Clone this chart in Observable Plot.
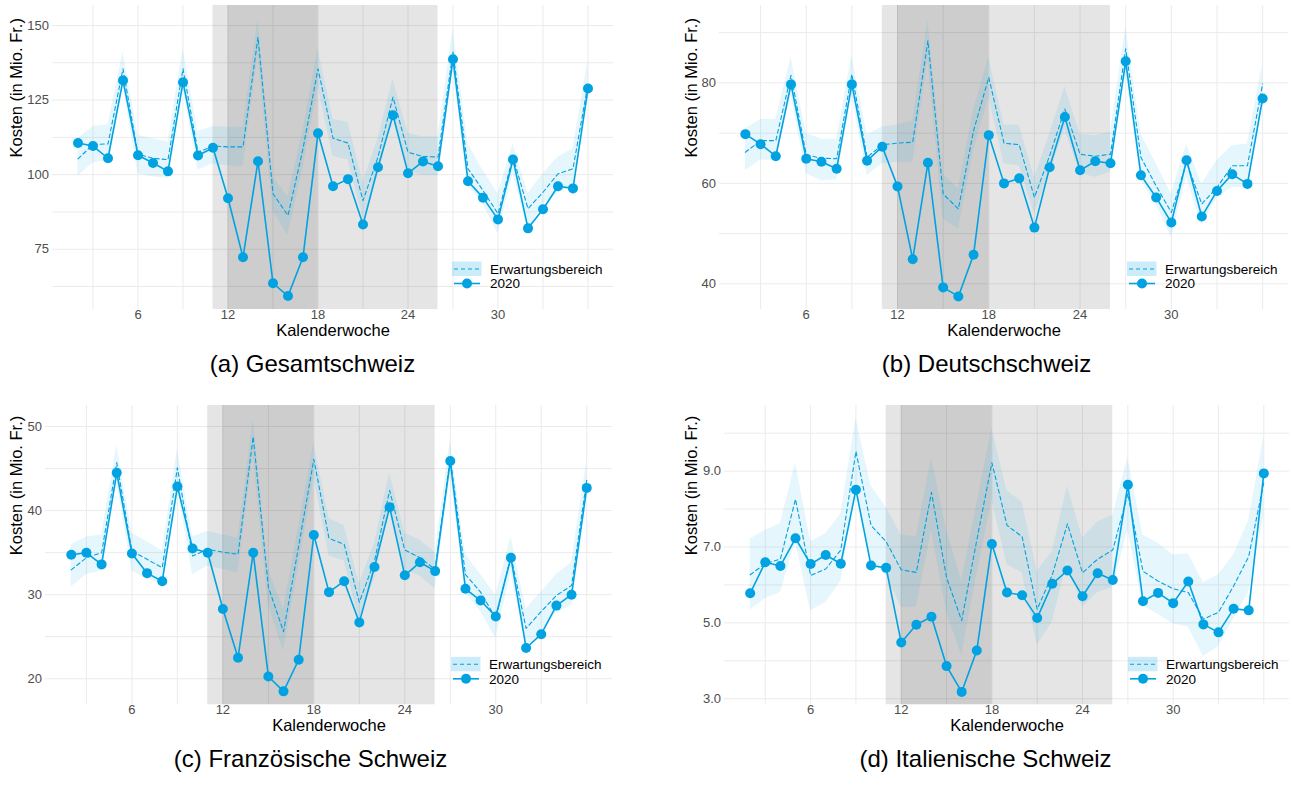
<!DOCTYPE html>
<html>
<head>
<meta charset="utf-8">
<script src="https://cdn.jsdelivr.net/npm/d3@7"></script>
<script src="https://cdn.jsdelivr.net/npm/@observablehq/plot@0.6"></script>
<style>
  html, body { margin: 0; padding: 0; background: #ffffff; }
  #wrap { position: relative; width: 1292px; height: 785px; overflow: hidden; }
  #wrap svg { position: absolute; overflow: visible; }
</style>
</head>
<body>
<div id="wrap"></div>
<script>
// ---------- data ----------
const weeks = [2,3,4,5,6,7,8,9,10,11,12,13,14,15,16,17,18,19,20,21,22,23,24,25,26,27,28,29,30,31,32,33,34,35,36];
const xTicks = [6, 12, 18, 24, 30];
const xGrid = [3, 6, 9, 12, 15, 18, 21, 24, 27, 30, 33, 36];
const periodStart = [11, 12];
const periodEnd = [26, 18];
const xTitle = "Kalenderwoche";
const yTitle = "Kosten (in Mio. Fr.)";
const legendLabels = ["Erwartungsbereich", "2020"];

// (a) Gesamtschweiz
const valA = [110.6,109.6,105.5,131.6,106.5,103.9,101.1,131.0,106.4,109.0,92.1,72.3,104.5,63.6,59.3,72.3,113.9,96.1,98.5,83.3,102.5,119.9,100.5,104.4,102.8,138.7,97.8,92.3,85.0,105.1,82.0,88.4,96.1,95.4,128.9];
const expA = [105.3,110.1,110.3,135.5,106.8,105.5,105.0,135.5,107.5,109.6,109.3,109.3,146.1,93.6,86.3,108.7,135.5,112.2,110.6,91.3,105.9,126.0,107.5,106.1,105.9,141.1,102.0,94.7,86.9,105.9,88.6,94.1,100.3,102.0,130.4];
const loA  = [99.5,104.0,104.7,129.9,100.3,99.2,98.8,129.1,101.6,103.6,103.0,102.7,140.5,87.8,79.6,102.5,129.3,106.1,105.0,85.2,99.7,119.8,101.4,99.7,99.7,134.9,96.4,90.2,80.2,100.3,81.3,90.2,93.8,96.4,125.4];
const hiA  = [112.0,116.1,116.7,141.0,113.1,112.0,110.9,142.2,114.5,116.1,115.9,115.9,151.7,99.2,92.5,114.8,142.2,118.5,117.6,97.5,112.0,132.1,113.9,112.6,112.6,148.9,110.3,101.4,93.6,110.3,93.6,100.3,105.9,108.7,138.3];

// (b) Deutschschweiz
const valB = [69.8,67.8,65.4,79.7,64.9,64.3,62.9,79.7,64.5,67.3,59.4,44.9,64.1,39.3,37.5,45.8,69.6,60.0,61.0,51.2,63.2,73.2,62.6,64.4,64.0,84.3,61.6,57.2,52.2,64.6,53.4,58.5,61.8,59.9,76.9];
const expB = [66.2,68.5,68.5,81.5,65.7,65.0,64.9,81.7,65.2,67.7,68.0,68.2,88.4,57.9,54.9,70.5,81.1,68.0,67.7,57.2,65.5,74.8,65.8,65.4,65.8,86.8,65.2,59.5,54.2,64.2,55.9,59.2,63.5,63.5,79.8];
const loB  = [62.5,64.7,64.5,77.5,61.9,60.5,60.7,77.6,61.5,63.9,64.2,64.2,84.5,52.9,50.9,66.5,77.1,63.9,63.5,53.9,61.9,70.8,61.9,61.2,62.2,82.1,60.5,55.9,49.2,61.2,51.6,57.2,59.2,59.2,75.8];
const hiB  = [70.8,72.7,72.7,85.1,70.0,68.8,68.8,85.4,69.7,71.2,71.6,72.4,92.4,61.9,58.9,74.5,85.1,71.6,71.6,61.2,69.8,79.3,69.8,69.5,70.2,91.1,69.8,63.9,57.9,67.8,59.9,64.5,67.5,67.8,83.8];

// (c) Französische Schweiz
const valC = [34.74,34.98,33.6,44.5,34.9,32.56,31.6,42.86,35.5,34.98,28.3,22.5,34.98,20.27,18.5,22.26,37.1,30.3,31.6,26.7,33.3,40.4,32.3,33.85,32.8,45.9,30.7,29.3,27.4,34.4,23.66,25.3,28.7,30.0,42.7];
const expC = [32.95,34.4,34.98,45.7,35.2,34.2,33.2,45.1,34.6,35.4,35.05,34.8,48.8,30.9,25.6,35.8,46.1,36.7,36.0,29.1,34.0,42.4,35.3,34.4,33.0,46.3,32.4,30.3,27.2,34.6,26.0,28.0,29.9,31.1,43.6];
const loC  = [30.9,32.4,32.8,43.6,32.8,31.9,31.3,42.8,32.4,33.4,33.0,32.6,46.7,28.7,23.3,33.4,44.0,34.6,34.0,26.8,31.9,40.2,33.0,32.2,30.7,44.3,30.3,28.0,24.8,32.6,23.7,25.6,27.8,28.7,41.4];
const hiC  = [35.95,36.85,37.1,47.7,37.3,36.3,35.2,47.3,36.9,37.5,37.1,36.7,50.8,33.0,28.3,38.1,48.0,39.1,38.2,31.3,36.1,44.5,37.3,36.5,35.0,48.4,34.8,32.4,29.9,36.9,28.3,30.3,32.4,33.8,45.9];

// (d) Italienische Schweiz
const valD = [5.78,6.6,6.5,7.23,6.55,6.79,6.56,8.51,6.51,6.45,4.48,4.95,5.16,3.86,3.18,4.27,7.08,5.8,5.73,5.13,6.03,6.38,5.7,6.31,6.13,8.64,5.57,5.79,5.52,6.09,4.96,4.75,5.37,5.33,8.94];
const expD = [6.27,6.56,6.68,8.26,6.25,6.42,6.92,9.52,7.57,7.14,6.4,6.33,8.44,6.19,5.06,7.18,9.22,7.57,7.27,5.36,6.27,7.61,6.32,6.68,6.92,8.4,6.36,6.1,5.9,5.8,5.1,5.28,5.97,6.75,8.7];
const loD  = [5.34,5.64,5.8,7.14,5.32,5.54,6.1,8.52,6.66,6.27,5.41,5.41,7.44,5.28,4.15,6.27,8.26,6.53,6.32,4.41,5.02,6.62,5.41,5.8,5.93,7.44,5.45,5.23,4.97,4.89,4.11,4.37,5.1,5.8,7.83];
const hiD  = [7.21,7.44,7.61,9.22,7.14,7.35,7.87,10.39,8.61,8.05,7.31,7.27,9.35,7.44,6.1,8.13,10.13,8.48,8.18,6.36,6.88,8.61,7.23,7.66,7.83,9.35,7.31,7.1,6.79,6.82,6.06,6.27,6.79,7.7,9.91];

const captions = ["(a) Gesamtschweiz", "(b) Deutschschweiz", "(c) Französische Schweiz", "(d) Italienische Schweiz"];

// ---------- drawing ----------
const blue = "#00a2e1";
const font = "'Liberation Sans', Arial, Helvetica, sans-serif";
const periods = periodStart.map((s, i) => ({start: s, end: periodEnd[i]}));
const wrap = document.getElementById("wrap");

function panel(cfg) {
  const data = weeks.map((w, i) => ({week: w, value: cfg.val[i], expected: cfg.exp[i], lower: cfg.lo[i], upper: cfg.hi[i]}));
  const plot = Plot.plot({
    width: cfg.width, height: cfg.height,
    marginLeft: cfg.mL, marginRight: cfg.mR, marginTop: cfg.mT, marginBottom: cfg.mB,
    x: {domain: [0.3, 37.7], axis: null},
    y: {domain: cfg.yDomain, axis: null},
    style: {fontFamily: font, fontSize: "13px", color: "#4d4d4d", background: "transparent", overflow: "visible"},
    marks: [
      Plot.ruleY(cfg.yGrid, {stroke: "#ebebeb", strokeWidth: 1}),
      Plot.ruleX(xGrid, {stroke: "#ebebeb", strokeWidth: 1}),
      Plot.rect(periods, {x1: "start", x2: "end", fill: "#000", fillOpacity: 0.1}),
      Plot.areaY(data, {x: "week", y1: "lower", y2: "upper", fill: blue, fillOpacity: 0.1}),
      Plot.lineY(data, {x: "week", y: "expected", stroke: blue, strokeWidth: 1.1, strokeDasharray: "4,3"}),
      Plot.lineY(data, {x: "week", y: "value", stroke: blue, strokeWidth: 1.6}),
      Plot.dot(data, {x: "week", y: "value", r: 5, fill: blue}),
      // tick labels (positioned by the x / y scales)
      Plot.text(xTicks, {x: d => d, text: d => String(d), frameAnchor: "bottom", dy: 9, fontSize: 13, fill: "#4d4d4d"}),
      Plot.text(cfg.yTicks, {y: d => d, text: cfg.fmt, frameAnchor: "left", dx: -3.5, textAnchor: "end", fontSize: 13, fill: "#4d4d4d"}),
      // axis titles & caption
      Plot.text([xTitle], {text: d => d, frameAnchor: "bottom", dy: 26.5, fontSize: 16.5, fill: "#000"}),
      Plot.text([yTitle], {text: d => d, frameAnchor: "left", dx: cfg.yTitleDx, rotate: -90, fontSize: 16.5, fill: "#000"}),
      Plot.text([cfg.caption], {text: d => d, frameAnchor: "bottom", dy: 62, dx: cfg.capDx, fontSize: 24, fill: "#000"})
    ]
  });
  plot.style.left = cfg.left + "px";
  plot.style.top = cfg.top + "px";
  // legend (inside panel, bottom-right)
  const R = cfg.width - cfg.mR, B = cfg.height - cfg.mB;
  const g = d3.select(plot).append("g").attr("font-family", font);
  g.append("rect").attr("x", R - 161).attr("y", B - 47.5).attr("width", 29.5).attr("height", 14.5)
    .attr("fill", blue).attr("fill-opacity", 0.2);
  g.append("line").attr("x1", R - 159).attr("x2", R - 132).attr("y1", B - 40).attr("y2", B - 40)
    .attr("stroke", blue).attr("stroke-width", 1.1).attr("stroke-dasharray", "4,3");
  g.append("line").attr("x1", R - 159).attr("x2", R - 133).attr("y1", B - 25.5).attr("y2", B - 25.5)
    .attr("stroke", blue).attr("stroke-width", 1.6);
  g.append("circle").attr("cx", R - 146).attr("cy", B - 25.5).attr("r", 5).attr("fill", blue);
  [B - 40, B - 25.5].forEach((y, i) => {
    g.append("text").attr("x", R - 123).attr("y", y).attr("dy", "0.35em")
      .attr("text-anchor", "start").attr("font-size", 13.5).attr("fill", "#000").text(legendLabels[i]);
  });
  wrap.appendChild(plot);
}

panel({left: 0, top: 0, width: 630, height: 390, mL: 52, mR: 17, mT: 5, mB: 81,
  yDomain: [54.8, 156.7], yTicks: [75, 100, 125, 150], yGrid: [62.5, 75, 87.5, 100, 112.5, 125, 137.5, 150],
  fmt: d3.format("d"), yTitleDx: -35.5, capDx: -20.5, caption: captions[0],
  val: valA, exp: expA, lo: loA, hi: hiA});

panel({left: 646, top: 0, width: 646, height: 390, mL: 73, mR: 4, mT: 5, mB: 81,
  yDomain: [34.9, 95.4], yTicks: [40, 60, 80], yGrid: [40, 50, 60, 70, 80, 90],
  fmt: d3.format("d"), yTitleDx: -28, capDx: -17.5, caption: captions[1],
  val: valB, exp: expB, lo: loB, hi: hiB});

panel({left: 0, top: 395, width: 630, height: 390, mL: 45, mR: 18, mT: 10, mB: 80.7,
  yDomain: [16.9, 52.5], yTicks: [20, 30, 40, 50], yGrid: [20, 25, 30, 35, 40, 45, 50],
  fmt: d3.format("d"), yTitleDx: -28.5, capDx: -18.5, caption: captions[2],
  val: valC, exp: expC, lo: loC, hi: hiC});

panel({left: 646, top: 395, width: 646, height: 390, mL: 78, mR: 3, mT: 10, mB: 80.7,
  yDomain: [2.84, 10.73], yTicks: [3, 5, 7, 9], yGrid: [3, 4, 5, 6, 7, 8, 9, 10],
  fmt: d3.format(".1f"), yTitleDx: -33, capDx: -21.5, caption: captions[3],
  val: valD, exp: expD, lo: loD, hi: hiD});
</script>
</body>
</html>
